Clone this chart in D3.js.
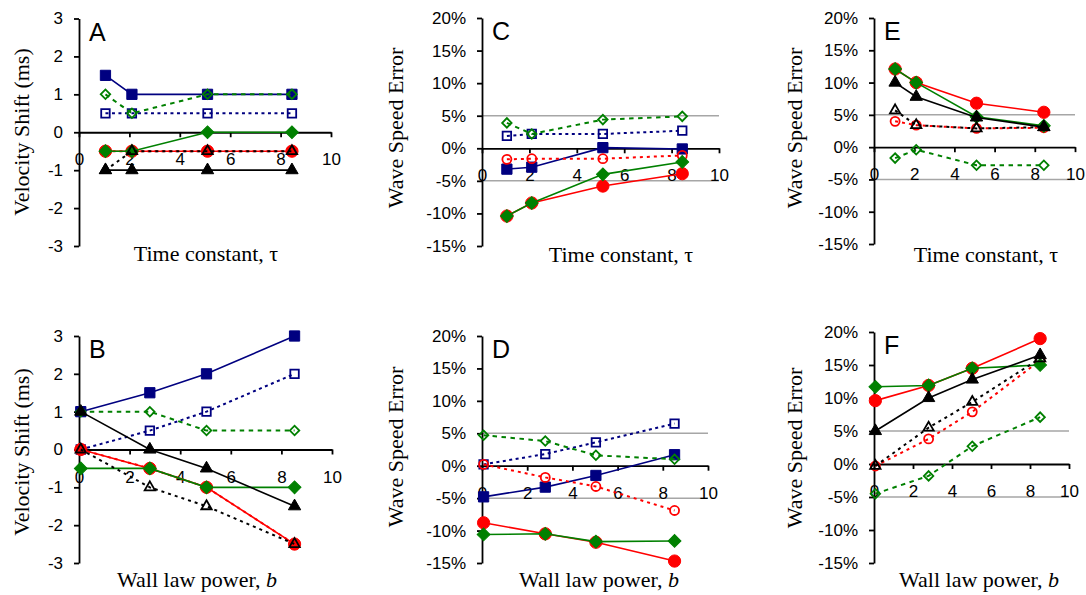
<!DOCTYPE html>
<html>
<head>
<meta charset="utf-8">
<script src="https://cdn.jsdelivr.net/npm/d3@7"></script>
<style>
  body { margin: 0; background: #fff; }
  svg { display: block; }
  .tick text { font-family: "Liberation Sans", Arial, sans-serif; font-size: 17px; fill: #000; }
  .title { font-family: "Liberation Serif", "Times New Roman", serif; font-size: 22px; fill: #000; }
  .letter { font-family: "Liberation Sans", Arial, sans-serif; font-size: 25px; fill: #000; }
</style>
</head>
<body>
<svg id="chart" width="1086" height="595"></svg>
<script>
// x values
var tauValues = [1.05, 2.1, 5.1, 8.45];
var wallPowerValues = [0.07, 2.8, 5.04, 8.52];
var xTicks = [0, 2, 4, 6, 8, 10];
var shiftTicks = [-3, -2, -1, 0, 1, 2, 3];
var errorTicks = [-15, -10, -5, 0, 5, 10, 15, 20];

// series order (also drawing order)
var seriesNames = ['navySolid', 'navyOpen', 'redSolid', 'redOpen', 'greenSolid', 'greenOpen', 'blackOpen', 'blackSolid'];

// velocity shift (ms) vs time constant
var panelAValues = [
    [1.5, 1, 1, 1],
    [0.5, 0.5, 0.5, 0.5],
    [-0.5, -0.5, -0.5, -0.5],
    [-0.5, -0.5, -0.5, -0.5],
    [-0.5, -0.5, 0, 0],
    [1, 0.5, 1, 1],
    [-1, -0.5, -0.5, -0.5],
    [-1, -1, -1, -1]
];
// velocity shift (ms) vs wall law power
var panelBValues = [
    [1, 1.5, 2, 3],
    [0, 0.5, 1, 2],
    [0, -0.5, -1, -2.5],
    [0, -0.5, -1, -2.5],
    [-0.5, -0.5, -1, -1],
    [1, 1, 0.5, 0.5],
    [0, -1, -1.5, -2.5],
    [1, 0, -0.5, -1.5]
];
// wave speed error (%) vs time constant
var panelCValues = [
    [-3.2, -2.9, 0.1, -0.1],
    [1.9, 2.2, 2.2, 2.7],
    [-10.4, -8.4, -5.8, -3.9],
    [-1.7, -1.6, -1.6, -1.1],
    [-10.4, -8.4, -4.0, -2.1],
    [3.9, 2.2, 4.4, 4.9],
    null,
    null
];
// wave speed error (%) vs wall law power
var panelDValues = [
    [-4.8, -3.3, -1.5, 1.7],
    [0.2, 1.8, 3.6, 6.5],
    [-8.8, -10.5, -11.8, -14.7],
    [0.2, -1.8, -3.2, -6.9],
    [-10.6, -10.5, -11.7, -11.6],
    [4.7, 3.8, 1.6, 1.0],
    null,
    null
];
// wave speed error (%) vs time constant
var panelEValues = [
    null,
    null,
    [12.1, 10.0, 6.8, 5.4],
    [4.0, 3.4, 2.9, 3.0],
    [12.1, 10.0, 4.7, 3.3],
    [-1.7, -0.4, -2.8, -2.8],
    [5.7, 3.4, 2.9, 3.1],
    [10.0, 7.8, 4.6, 3.1]
];
// wave speed error (%) vs wall law power
var panelFValues = [
    null,
    null,
    [9.6, 11.9, 14.5, 19.0],
    [-0.3, 3.8, 7.9, 15.7],
    [11.7, 11.9, 14.5, 15.0],
    [-4.5, -1.8, 2.7, 7.1],
    [-0.3, 5.5, 9.4, 16.0],
    [5.0, 10.0, 12.8, 16.5]
];

var styles = {
    navySolid:  { color: '#000080', dash: null, shape: 'square', filled: true },
    navyOpen:   { color: '#000080', dash: '3,3.5', shape: 'square', filled: false },
    redSolid:   { color: '#ff0000', dash: null, shape: 'circle', filled: true },
    redOpen:    { color: '#ff0000', dash: '3,4', shape: 'circle', filled: false },
    greenSolid: { color: '#008000', dash: null, shape: 'diamond', filled: true },
    greenOpen:  { color: '#008000', dash: '4.5,4.5', shape: 'diamond', filled: false },
    blackSolid: { color: '#000000', dash: null, shape: 'triangle', filled: true },
    blackOpen:  { color: '#000000', dash: '3,4', shape: 'triangle', filled: false }
};

var panels = [
    { letter: 'A', xs: tauValues, values: panelAValues, pct: false, x0: 79, x1: 331, yTop: 18.5, yBot: 246, ytX: 22, ytY: 132, xtX: 206, xtY: 261, xTitle: 'tau' },
    { letter: 'C', xs: tauValues, values: panelCValues, pct: true, x0: 482, x1: 719, yTop: 18, yBot: 246, ytX: 396, ytY: 128, xtX: 621, xtY: 262, xTitle: 'tau' },
    { letter: 'E', xs: tauValues, values: panelEValues, pct: true, x0: 874, x1: 1075, yTop: 18, yBot: 244, ytX: 795, ytY: 128, xtX: 986, xtY: 262, xTitle: 'tau' },
    { letter: 'B', xs: wallPowerValues, values: panelBValues, pct: false, x0: 79, x1: 332, yTop: 336, yBot: 563, ytX: 22, ytY: 452, xtX: 197, xtY: 587, xTitle: 'b' },
    { letter: 'D', xs: wallPowerValues, values: panelDValues, pct: true, x0: 482, x1: 708, yTop: 336, yBot: 563, ytX: 396, ytY: 447, xtX: 599, xtY: 587, xTitle: 'b' },
    { letter: 'F', xs: wallPowerValues, values: panelFValues, pct: true, x0: 874, x1: 1069, yTop: 332, yBot: 563, ytX: 795, ytY: 448, xtX: 979, xtY: 587, xTitle: 'b' }
];

var svg = d3.select('#chart');

function markerPath(style, size) {
    var type = { square: d3.symbolSquare, circle: d3.symbolCircle, diamond: d3.symbolSquare, triangle: d3.symbolTriangle }[style.shape];
    return d3.symbol().type(type).size(size)();
}

function markerSize(style) {
    if (style.shape === 'square') return style.filled ? 105 : 72;
    if (style.shape === 'circle') return style.filled ? 118 : 64;
    if (style.shape === 'diamond') return style.filled ? 82 : 45;
    return style.filled ? 66 : 46;
}

panels.forEach(function (p) {
    var g = svg.append('g');
    var x = d3.scaleLinear().domain([0, 10]).range([p.x0, p.x1]);
    var y = p.pct
        ? d3.scaleLinear().domain([-15, 20]).range([p.yBot, p.yTop])
        : d3.scaleLinear().domain([-3, 3]).range([p.yBot, p.yTop]);

    // grey reference lines at +/-5%
    if (p.pct) {
        g.selectAll('.ref').data([5, -5]).enter().append('line')
            .attr('x1', x(0)).attr('x2', x(10))
            .attr('y1', function (d) { return y(d); })
            .attr('y2', function (d) { return y(d); })
            .attr('stroke', '#a6a6a6').attr('stroke-width', 1.5);
    }

    var yAxis = d3.axisLeft(y)
        .tickValues(p.pct ? errorTicks : shiftTicks)
        .tickSize(5).tickSizeOuter(0).tickPadding(11)
        .tickFormat(function (d) { return p.pct ? d + '%' : d; });
    var xAxis = d3.axisBottom(x)
        .tickValues(xTicks)
        .tickSize(5).tickSizeOuter(0).tickPadding(16);

    var ya = g.append('g').attr('transform', 'translate(' + p.x0 + ',0)').call(yAxis);
    var xa = g.append('g').attr('transform', 'translate(0,' + y(0) + ')').call(xAxis);
    [ya, xa].forEach(function (a) {
        a.select('.domain').attr('stroke', '#000').attr('stroke-width', 1.8);
        a.selectAll('.tick line').attr('stroke', '#000').attr('stroke-width', 1.8);
        a.selectAll('text').attr('font-size', null).attr('font-family', null);
    });

    var line = d3.line()
        .x(function (d) { return x(d[0]); })
        .y(function (d) { return y(d[1]); });

    seriesNames.forEach(function (name, i) {
        var vals = p.values[i];
        if (!vals) return;
        var st = styles[name];
        var pts = vals.map(function (v, j) { return [p.xs[j], v]; });

        g.append('path').datum(pts)
            .attr('d', line)
            .attr('fill', 'none')
            .attr('stroke', st.color)
            .attr('stroke-width', st.dash ? 2 : 1.6)
            .attr('stroke-dasharray', st.dash);

        // open markers have no fill, like the source
        g.selectAll('.m-' + name).data(pts).enter().append('path')
            .attr('class', 'm-' + name)
            .attr('d', markerPath(st, markerSize(st)))
            .attr('transform', function (d) {
                var t = 'translate(' + x(d[0]) + ',' + y(d[1]) + ')';
                return st.shape === 'diamond' ? t + ' rotate(45)' : t;
            })
            .attr('fill', st.filled ? st.color : 'none')
            .attr('stroke', st.color)
            .attr('stroke-width', st.filled ? 1 : 1.8);
    });

    // panel letter
    g.append('text').attr('class', 'letter')
        .attr('x', x(0) + 10).attr('y', p.yTop + 22)
        .text(p.letter);

    // axis titles
    g.append('text').attr('class', 'title')
        .attr('text-anchor', 'middle')
        .attr('transform', 'translate(' + (p.ytX + 7) + ',' + p.ytY + ') rotate(-90)')
        .text(p.pct ? 'Wave Speed Error' : 'Velocity Shift (ms)');

    var xt = g.append('text').attr('class', 'title')
        .attr('text-anchor', 'middle')
        .attr('x', p.xtX).attr('y', p.xtY);
    if (p.xTitle === 'tau') {
        xt.text('Time constant, \u03c4');
    } else {
        xt.append('tspan').text('Wall law power, ');
        xt.append('tspan').attr('font-style', 'italic').text('b');
    }
});
</script>
</body>
</html>
